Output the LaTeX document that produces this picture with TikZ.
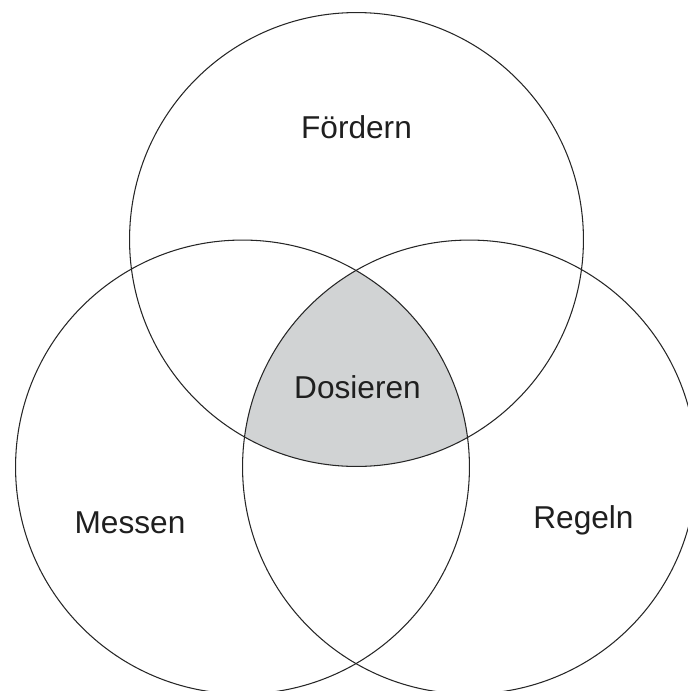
\documentclass[tikz,border=0pt]{standalone}
\usepackage{fontspec}
\setmainfont{Liberation Sans}
\definecolor{dosgray}{RGB}{209,211,212}

\begin{document}
\begin{tikzpicture}[x=0.02cm,y=-0.02cm]
\tikzstyle{every node}+=[inner sep=0pt]
\tikzstyle{areatext}=[font=\fontsize{18}{22}\selectfont, anchor=base, text=black!88]
\tikzstyle{ring}=[black!85, line width=0.6pt]
\useasboundingbox (0,0) rectangle (688,691);
\clip (0,0) rectangle (688,691);
\coordinate (F) at (356.5,239.5);
\coordinate (M) at (242.5,467);
\coordinate (R) at (469.5,467);
% shaded common part
\begin{scope}
\clip (F) circle [radius=4.54cm];
\clip (M) circle [radius=4.54cm];
\fill [dosgray] (R) circle [radius=4.54cm];
\end{scope}
\draw [ring] (F) circle [radius=4.54cm];
\draw [ring] (M) circle [radius=4.54cm];
\draw [ring] (R) circle [radius=4.54cm];
\node [areatext] (foerdern) at (356.5,138.7) {Fördern};
\node [areatext] (dosieren) at (357.5,398.4) {Dosieren};
\node [areatext] (messen) at (130,533) {Messen};
\node [areatext] (regeln) at (583.5,528.7) {Regeln};
\end{tikzpicture}
\end{document}
